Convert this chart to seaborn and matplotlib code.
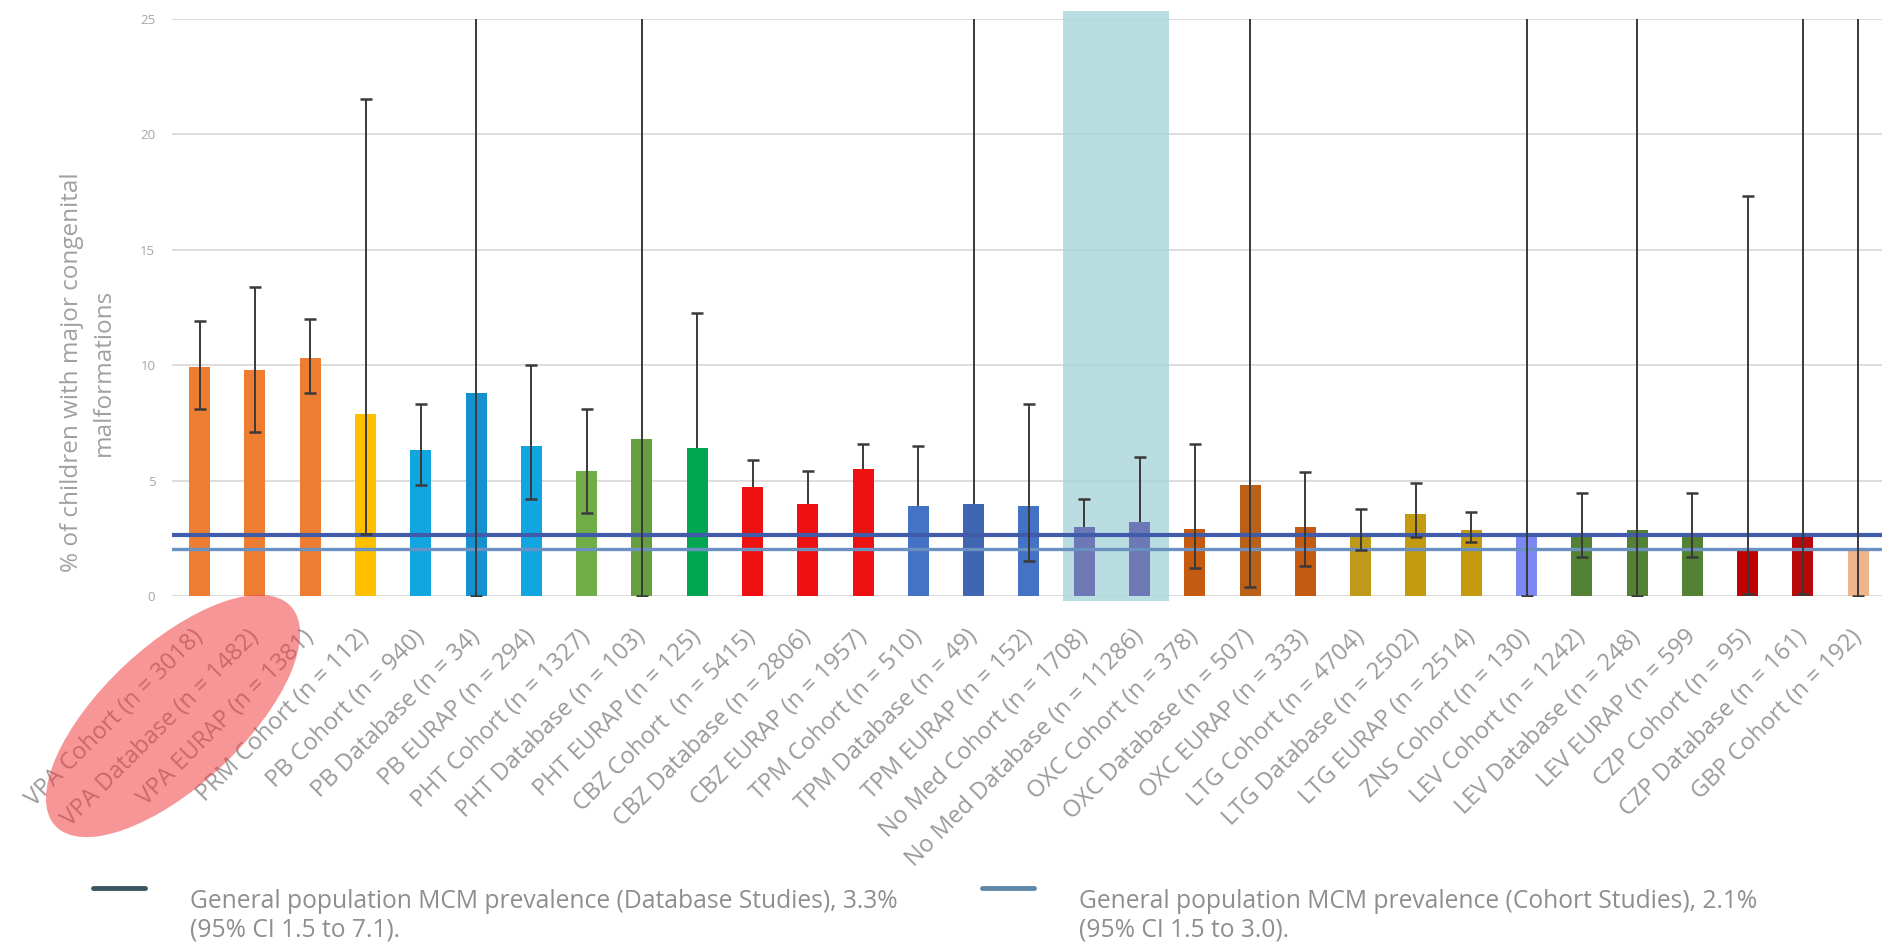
import numpy as np
import pandas as pd
import matplotlib
matplotlib.use("Agg")
import matplotlib.pyplot as plt
import seaborn as sns
from matplotlib.patches import Ellipse
from matplotlib.lines import Line2D
from matplotlib.legend_handler import HandlerLine2D
from matplotlib.transforms import IdentityTransform

# ---------------- data ----------------
labels = [
    "VPA Cohort (n = 3018)", "VPA Database (n = 1482)", "VPA EURAP (n = 1381)",
    "PRM Cohort (n = 112)", "PB Cohort (n = 940)", "PB Database (n = 34)",
    "PB EURAP (n = 294)", "PHT Cohort (n = 1327)", "PHT Database (n = 103)",
    "PHT EURAP (n = 125)", "CBZ Cohort  (n = 5415)", "CBZ Database (n = 2806)",
    "CBZ EURAP (n = 1957)", "TPM Cohort (n = 510)", "TPM Database (n = 49)",
    "TPM EURAP (n = 152)", "No Med Cohort (n = 1708)", "No Med Database (n = 11286)",
    "OXC Cohort (n = 378)", "OXC Database (n = 507)", "OXC EURAP (n = 333)",
    "LTG Cohort (n = 4704)", "LTG Database (n = 2502)", "LTG EURAP (n = 2514)",
    "ZNS Cohort (n = 130)", "LEV Cohort (n = 1242)", "LEV Database (n = 248)",
    "LEV EURAP (n = 599", "CZP Cohort (n = 95)", "CZP Database (n = 161)",
    "GBP Cohort (n = 192)",
]
prevalence = [9.9, 9.8, 10.3, 7.9, 6.3, 8.8, 6.5, 5.4, 6.8, 6.4, 4.7, 4.0, 5.5,
              3.9, 4.0, 3.9, 3.0, 3.2, 2.9, 4.8, 3.0, 2.65, 3.55, 2.85, 2.65,
              2.6, 2.85, 2.6, 2.0, 2.6, 2.0]
ci_upper = [11.9, 13.4, 12.0, 21.5, 8.3, 30, 10.0, 8.1, 30, 12.25, 5.9, 5.4, 6.6,
            6.5, 30, 8.3, 4.2, 6.0, 6.6, 30, 5.35, 3.75, 4.9, 3.65, 30,
            4.45, 30, 4.45, 17.3, 30, 30]
ci_lower = [8.1, 7.1, 8.8, 2.7, 4.8, 0.0, 4.2, 3.6, 0.0, np.nan, np.nan, np.nan, np.nan,
            np.nan, np.nan, 1.5, np.nan, np.nan, 1.2, 0.4, 1.3, 2.0, 2.55, 2.35, 0.0,
            1.7, 0.0, 1.7, 0.1, 0.1, 0.0]
bar_colors = ["#ED7D31", "#ED7D31", "#ED7D31", "#FFC000", "#12A6E0", "#1592CE",
              "#12A6E0", "#70AD47", "#679F40", "#00A650", "#EE1111", "#EE1111",
              "#EE1111", "#4472C4", "#3F66B0", "#4472C4", "#6E78B5", "#6E78B5",
              "#C55A11", "#BA6017", "#C55A11", "#BF9A1A", "#C49B0E", "#C49B0E",
              "#7B88F2", "#548235", "#548235", "#548235", "#C00000", "#B80808",
              "#F0B48A"]
database_prev = 2.65   # drawn level of the database-studies reference line
cohort_prev = 2.05     # drawn level of the cohort-studies reference line
legend_labels = [
    "General population MCM prevalence (Database Studies), 3.3%\n(95% CI 1.5 to 7.1).",
    "General population MCM prevalence (Cohort Studies), 2.1%\n(95% CI 1.5 to 3.0).",
]
y_ticks = [0, 5, 10, 15, 20, 25]
highlight_span = (15.62, 17.54)

# ---------------- style ----------------
sns.set_style("white")
plt.rcParams["font.family"] = ["Open Sans", "DejaVu Sans"]

W, H = 1882, 943
fig = plt.figure(figsize=(W / 100, H / 100), dpi=100)
ax = fig.add_axes([172 / W, 1 - 596 / H, (W - 172) / W, (596 - 18.6) / H])

df = pd.DataFrame({"label": labels, "value": prevalence})
sns.barplot(data=df, x="label", y="value", hue="label", palette=bar_colors,
            legend=False, width=0.38, saturation=1, linewidth=0, ax=ax, zorder=2)

x = np.arange(len(labels))
vals = np.array(prevalence)
hi = np.array(ci_upper)
lo = np.array(ci_lower, dtype=float)
lo_line = np.where(np.isnan(lo), vals, lo)
ax.vlines(x, lo_line, hi, color="#3A3A3A", lw=1.4, zorder=4)
ax.plot(x, hi, ls="none", marker="_", ms=8, mew=1.8, color="#3A3A3A", zorder=4)
m = ~np.isnan(lo)
ax.plot(x[m], lo[m], ls="none", marker="_", ms=8, mew=1.8, color="#3A3A3A", zorder=4)

ax.axhline(database_prev, color="#3F5BAA", lw=3.0, zorder=3)
ax.axhline(cohort_prev, color="#6B90C2", lw=2.4, zorder=3)

ax.axvspan(highlight_span[0], highlight_span[1], ymin=-0.008, ymax=1.013,
           color="#A9D5DB", alpha=0.8, lw=0, zorder=1, clip_on=False)

ax.set_xlim(-0.5, 30.43)
ax.set_ylim(0, 25)
ax.set_yticks(y_ticks)
ax.set_yticklabels([str(t) for t in y_ticks], color="#A6A6A6", fontsize=9.5)
ax.yaxis.grid(True, color="#DADADA", lw=1.3, zorder=0)
ax.set_axisbelow(True)
for s in ax.spines.values():
    s.set_visible(False)
ax.tick_params(axis="y", length=0, pad=12)
ax.tick_params(axis="x", length=0, pad=27)
ax.set_xlabel("")
ax.set_ylabel("")
ax.set_xticks(x)
ax.set_xticklabels(labels, rotation=45, ha="right", va="center",
                   rotation_mode="anchor", color="#9A9A9A", fontsize=17)

fig.text(88 / W, 1 - 372 / H, "% of children with major congenital\nmalformations",
         rotation=90, ha="center", va="center", color="#A0A0A0", fontsize=17.5,
         linespacing=1.45, multialignment="center")

# red highlight ellipse over the VPA labels
ell = Ellipse((173, H - 716), width=322, height=140, angle=43,
              transform=IdentityTransform(), facecolor="#F04040", alpha=0.55,
              edgecolor="none", zorder=10)
fig.add_artist(ell)


class RaisedLine(HandlerLine2D):
    """Legend line drawn level with the first text line."""
    def create_artists(self, legend, orig_handle, xdescent, ydescent, width,
                       height, fontsize, trans):
        arts = super().create_artists(legend, orig_handle, xdescent, ydescent,
                                      width, height, fontsize, trans)
        for a in arts:
            a.set_ydata(np.asarray(a.get_ydata()) + 21)
        return arts


handles = [Line2D([], [], color="#3D5560", lw=3.5),
           Line2D([], [], color="#5F88A8", lw=3.5)]
fig.legend(handles, legend_labels, loc="upper left", ncol=2,
           bbox_to_anchor=(93 / W, 1 - 889 / H), frameon=False, fontsize=17.7,
           labelcolor="#8E8E8E", handlelength=2.1, handletextpad=1.83,
           columnspacing=3.45, borderaxespad=0, borderpad=0,
           handler_map={Line2D: RaisedLine()})

fig.savefig("out.png", dpi=100)
